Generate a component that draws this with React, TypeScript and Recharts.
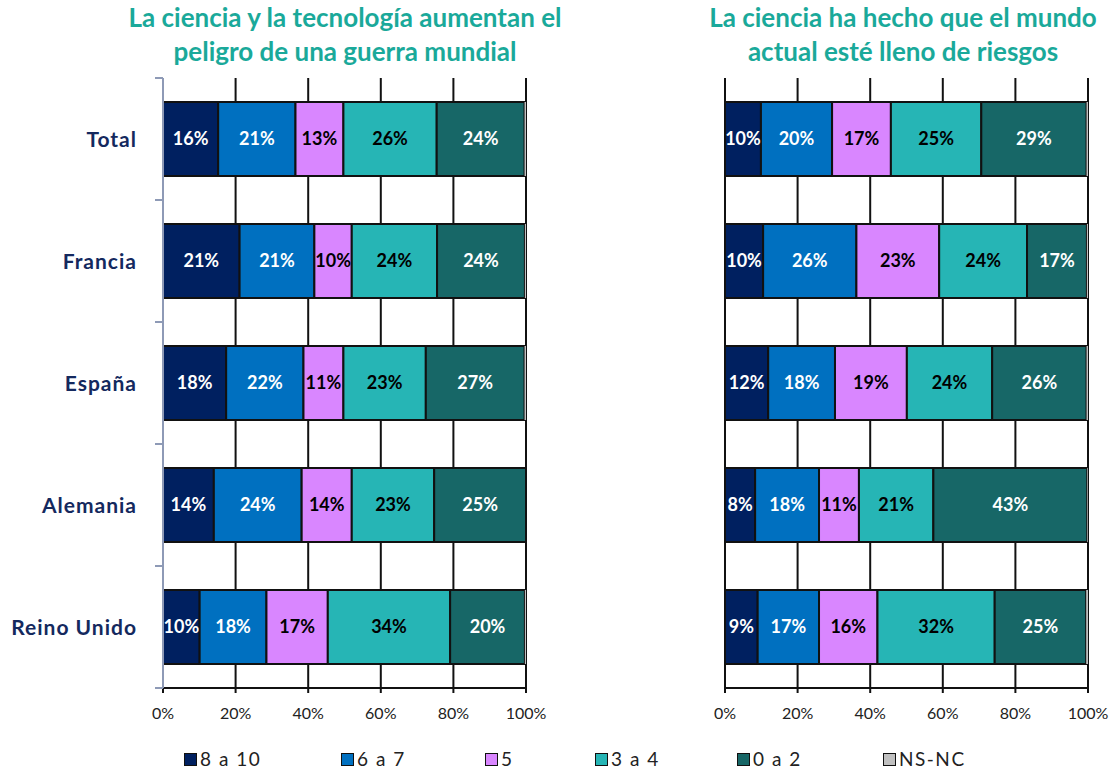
import { BarChart, Bar, XAxis, YAxis, CartesianGrid, LabelList } from 'recharts';

const categories = ['Total', 'Francia', 'España', 'Alemania', 'Reino Unido'];
const seriesNames = ['8 a 10', '6 a 7', '5', '3 a 4', '0 a 2', 'NS-NC'];
const seriesKeys = ['s8', 's6', 's5', 's3', 's0', 'ns'];
const seriesColors = ['#002060', '#0070C0', '#D986FF', '#26B5B5', '#176767', '#C0C0C0'];
const labelColors = ['#ffffff', '#ffffff', '#000000', '#000000', '#ffffff'];
const xTicks = [0, 20, 40, 60, 80, 100];

// left chart: "La ciencia y la tecnología aumentan el peligro de una guerra mundial"
const left8a10 = [15.2, 21.1, 17.4, 14.0, 10.1];
const left6a7 = [21.3, 20.6, 21.3, 24.2, 18.4];
const left5 = [13.2, 10.3, 11.0, 13.8, 16.9];
const left3a4 = [25.7, 23.5, 22.7, 22.7, 33.7];
const left0a2 = [24.2, 24.2, 27.2, 25.3, 20.6];
const leftNsnc = [0.4, 0.3, 0.4, 0, 0.3];
const leftLabels = [
  [16, 21, 18, 14, 10],
  [21, 21, 22, 24, 18],
  [13, 10, 11, 14, 17],
  [26, 24, 23, 23, 34],
  [24, 24, 27, 25, 20],
];

// right chart: "La ciencia ha hecho que el mundo actual esté lleno de riesgos"
const right8a10 = [9.9, 10.5, 11.9, 8.3, 9.0];
const right6a7 = [19.6, 25.7, 18.4, 17.6, 16.9];
const right5 = [16.2, 22.8, 19.8, 11.0, 16.1];
const right3a4 = [24.9, 24.2, 23.5, 20.5, 32.3];
const right0a2 = [29.0, 16.5, 26.0, 42.4, 25.2];
const rightNsnc = [0.4, 0.3, 0.4, 0.2, 0.5];
const rightLabels = [
  [10, 10, 12, 8, 9],
  [20, 26, 18, 18, 17],
  [17, 23, 19, 11, 16],
  [25, 24, 24, 21, 32],
  [29, 17, 26, 43, 25],
];

const leftRows = categories.map((cat, i) => ({
  cat, s8: left8a10[i], s6: left6a7[i], s5: left5[i], s3: left3a4[i], s0: left0a2[i], ns: leftNsnc[i],
}));
const rightRows = categories.map((cat, i) => ({
  cat, s8: right8a10[i], s6: right6a7[i], s5: right5[i], s3: right3a4[i], s0: right0a2[i], ns: rightNsnc[i],
}));

const FONT = 'Lato, "Open Sans", sans-serif';
const CHART_H = 771;
const TOP = 78;
const BOTTOM = 83;
const BAND = (CHART_H - TOP - BOTTOM) / categories.length;
const legendX = [184, 341, 485, 595, 737, 883];

const makeLabel = (labels: number[], color: string) => (props: any) => {
  const { x, y, width, height, index } = props;
  if (!width || width < 4) return null;
  return (
    <text x={x + width / 2} y={y + height / 2} dy="0.36em" textAnchor="middle" fill={color}
      fontSize={18} fontWeight={700} fontFamily={FONT}>
      {labels[index]}%
    </text>
  );
};

function CatTick(props: any) {
  const { x, y, payload } = props;
  const half = BAND / 2;
  return (
    <g>
      <text x={x} y={y} dy="0.36em" textAnchor="end" fill="#14295E" fontSize={21} fontWeight={700}
        fontFamily={FONT} letterSpacing={1}>
        {payload.value}
      </text>
      <line x1={x + 18} x2={x + 26} y1={y - half} y2={y - half} stroke="#8E9AB6" strokeWidth={2} />
      <line x1={x + 18} x2={x + 26} y1={y + half} y2={y + half} stroke="#8E9AB6" strokeWidth={2} />
    </g>
  );
}

function Panel({ rows, labels, showCats, left, width, marginLeft, marginRight }: any) {
  return (
    <div style={{ position: 'absolute', left, top: 0 }}>
      <BarChart width={width} height={CHART_H} data={rows} layout="vertical"
        margin={{ top: TOP, right: marginRight, bottom: BOTTOM - 40, left: marginLeft }}>
        <CartesianGrid horizontal={false} stroke="#111" strokeWidth={2} />
        <XAxis type="number" domain={[0, 100]} allowDataOverflow ticks={xTicks} height={40}
          tickFormatter={(v: number) => `${v}%`} axisLine={{ stroke: '#111', strokeWidth: 2 }}
          tickLine={{ stroke: '#111', strokeWidth: 2 }} tickSize={5} tickMargin={15}
          tick={{ fill: '#222', fontSize: 16, fontFamily: FONT }} interval={0} />
        <YAxis type="category" dataKey="cat" hide={!showCats} width={163} tickSize={0} tickMargin={26}
          tickLine={false} axisLine={{ stroke: '#8E9AB6', strokeWidth: 2 }} tick={<CatTick />} interval={0} />
        {seriesKeys.map((k, si) => (
          <Bar key={k} dataKey={k} stackId="a" fill={seriesColors[si]} barSize={74}
            stroke={k === 'ns' ? 'none' : '#111'} strokeWidth={2} isAnimationActive={false}>
            {si < 5 && <LabelList dataKey={k} content={makeLabel(labels[si], labelColors[si])} />}
          </Bar>
        ))}
      </BarChart>
    </div>
  );
}

const titleStyle = (center: number): any => ({
  position: 'absolute', left: center - 300, width: 600, top: 0, textAlign: 'center',
  fontFamily: FONT, fontWeight: 700, fontSize: 26, lineHeight: '34px', color: '#1AA99A',
});

export default function App() {
  return (
    <div style={{ position: 'absolute', left: 0, top: 0, width: 1113, height: 771, background: '#fff', overflow: 'hidden' }}>
      <div style={titleStyle(345)}>La ciencia y la tecnología aumentan el<br />peligro de una guerra mundial</div>
      <div style={titleStyle(903)}>La ciencia ha hecho que el mundo<br />actual esté lleno de riesgos</div>
      <Panel rows={leftRows} labels={leftLabels} showCats left={0} width={560} marginLeft={0} marginRight={34} />
      <Panel rows={rightRows} labels={rightLabels} showCats={false} left={560} width={553} marginLeft={165} marginRight={25} />
      {seriesNames.map((name, i) => (
        <div key={name} style={{ position: 'absolute', left: legendX[i], top: 749, display: 'flex', alignItems: 'center',
          fontFamily: FONT, fontSize: 19, color: '#222', lineHeight: '20px', letterSpacing: 1.5 }}>
          <span style={{ width: 11, height: 11, background: seriesColors[i], border: '1.5px solid #111', marginRight: 3, display: 'inline-block' }} />
          {name}
        </div>
      ))}
    </div>
  );
}
